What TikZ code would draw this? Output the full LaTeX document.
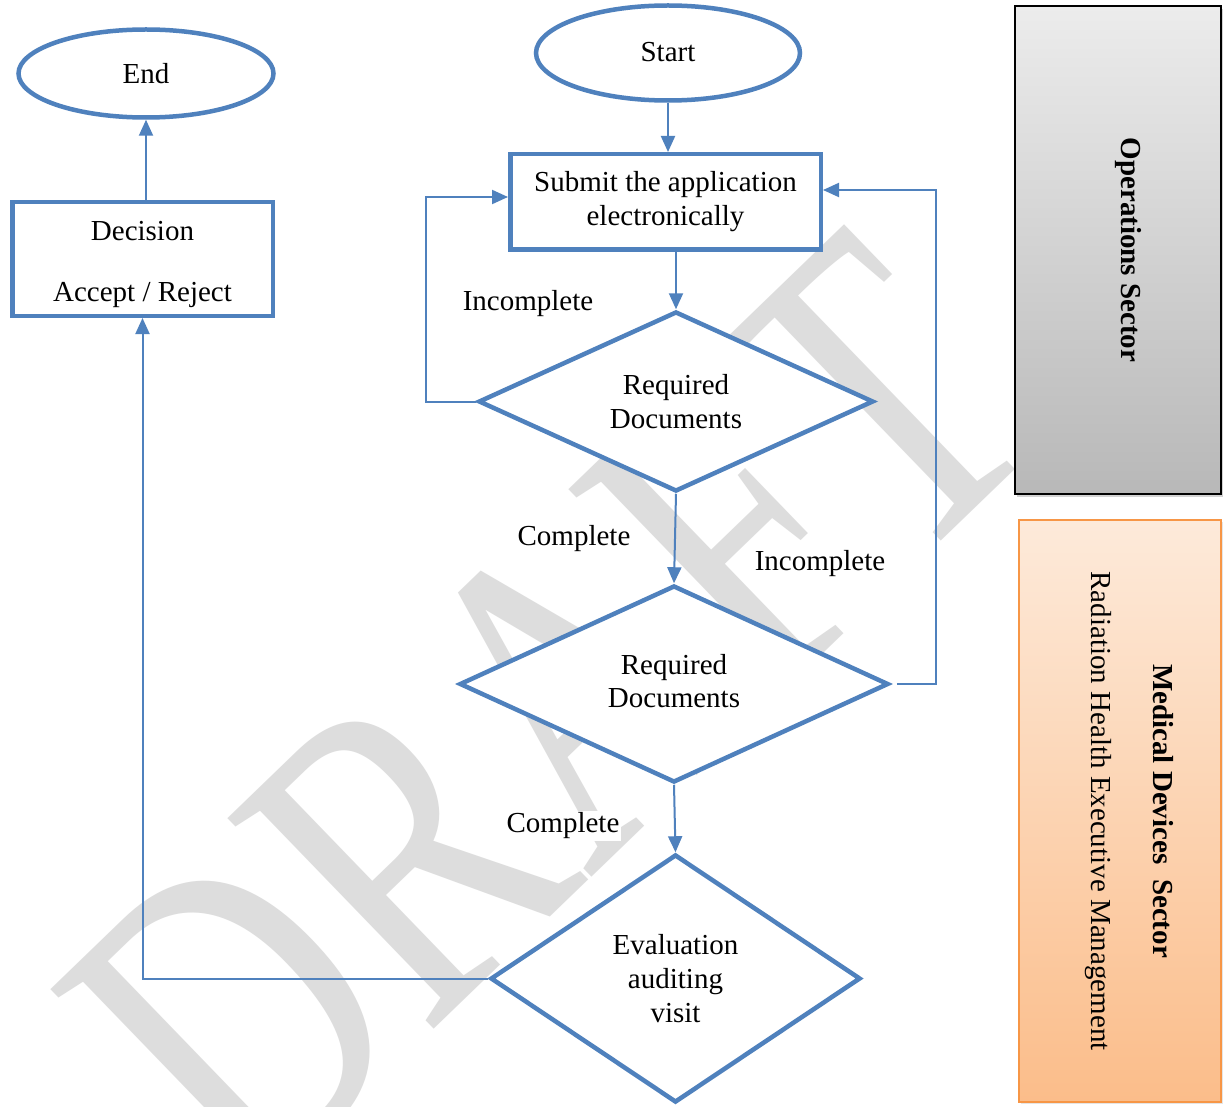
\documentclass[tikz,border=0pt]{standalone}
\usepackage{fontspec}
\setmainfont{Liberation Serif}
\usetikzlibrary{shapes.geometric,arrows.meta,shadows,calc}
\definecolor{flow}{HTML}{4F81BD}
\definecolor{wm}{HTML}{DDDDDD}
\definecolor{opsTop}{HTML}{ECECEC}
\definecolor{opsBot}{HTML}{B8B8B8}
\definecolor{medTop}{HTML}{FDEADA}
\definecolor{medBot}{HTML}{FBBD8A}
\definecolor{medLine}{HTML}{F79646}
\begin{document}
\begin{tikzpicture}[x=1pt,y=-1pt,
  txt/.style={font=\fontsize{29}{34}\selectfont},
  boxnode/.style={txt, draw=flow, line width=4.5pt, fill=white, rectangle, align=center, inner sep=0pt},
  ovalnode/.style={txt, draw=flow, line width=4.5pt, fill=white, ellipse, inner sep=0pt},
  decnode/.style={txt, draw=flow, line width=4.5pt, fill=white, diamond, align=center, inner sep=0pt},
  conn/.style={draw=flow, line width=2pt},
  arr/.style={conn, -{Triangle[length=16pt,width=14pt]}},
  lbl/.style={txt, fill=white, inner sep=2pt},
]
\useasboundingbox (0,0) rectangle (1228,1107);
\fill[white] (0,0) rectangle (1228,1107);

% watermark
\node[font=\fontsize{341}{341}\selectfont, text=wm, rotate=44, inner sep=0pt] (wmark) at (548,714) {\scalebox{1}[1.32]{DRAFT}};

% flow nodes
\node[ovalnode, minimum width=255pt, minimum height=88pt] (End) at (146,73.5) {End};
\node[ovalnode, minimum width=264pt, minimum height=95pt] (Start) at (668,53) {\raisebox{2pt}{Start}};
\node[boxnode, minimum width=310.5pt, minimum height=95.5pt] (Submit) at (665.5,202) {Submit the application\\electronically};
\node[boxnode, minimum width=260.5pt, minimum height=113.5pt] (Decision) at (142.5,259) {};
\node[txt, align=center, inner sep=0pt] (DecisionT) at (142.5,264) {Decision\\[27pt]Accept / Reject};
\node[decnode, shape aspect=2, minimum width=395pt, minimum height=180pt] (D1) at (676,401.5) {Required\\Documents};
\node[decnode, shape aspect=2, minimum width=429pt, minimum height=197pt] (D2) at (674,684) {\raisebox{2pt}{\begin{tabular}{@{}c@{}}Required\\[-1pt]Documents\end{tabular}}};
\node[decnode, shape aspect=1.5, minimum width=370pt, minimum height=248pt] (D3) at (675.5,978.5) {Evaluation\\auditing\\visit};

% connectors
\draw[arr] (Start.south -| 668,0) -- (Submit.north -| 668,0);
\draw[arr] (Submit.south -| D1.north) -- (D1.north);
\draw[arr] (D1.south) -- (D2.north);
\draw[arr] (D2.south) -- (D3.north);
\coordinate (LL) at (426,404);
\coordinate (RR) at (936,686);
\draw[arr] (D1.west) -- (D1.west -| LL) |- ($(Submit.west)+(0,-5)$);
\draw[arr] ($(D2.east)+(6,0)$) -- (D2.east -| RR) |- ($(Submit.east)+(0,-12)$);
\draw[arr] (D3.west) -| (Decision.south);
\draw[arr] (Decision.north -| End.south) -- (End.south);

% labels
\node[lbl] (inc1) at (528,304) {Incomplete};
\node[lbl] (com1) at (574,539) {Complete};
\node[lbl] (inc2) at (820,564) {Incomplete};
\node[lbl] (com2) at (563,826) {Complete};

% sector boxes
\node[draw=black, line width=2pt, top color=opsTop, bottom color=opsBot, minimum width=206pt, minimum height=488pt, inner sep=0pt,
  drop shadow={shadow xshift=2pt, shadow yshift=-3pt, opacity=0.35}] (ops) at (1118,250) {};
\node[txt, font=\fontsize{29}{34}\selectfont\bfseries, rotate=-90] (opsT) at (1128,250) {Operations Sector};
\node[draw=medLine, line width=2pt, top color=medTop, bottom color=medBot, minimum width=202pt, minimum height=582pt, inner sep=0pt,
  drop shadow={shadow xshift=2pt, shadow yshift=-2pt, opacity=0.2}] (med) at (1120,811) {};
\node[txt, rotate=-90, align=center] (medT) at (1129,811) {\textbf{Medical Devices\ \ Sector}\\[28pt]Radiation Health Executive Management};
\end{tikzpicture}
\end{document}
